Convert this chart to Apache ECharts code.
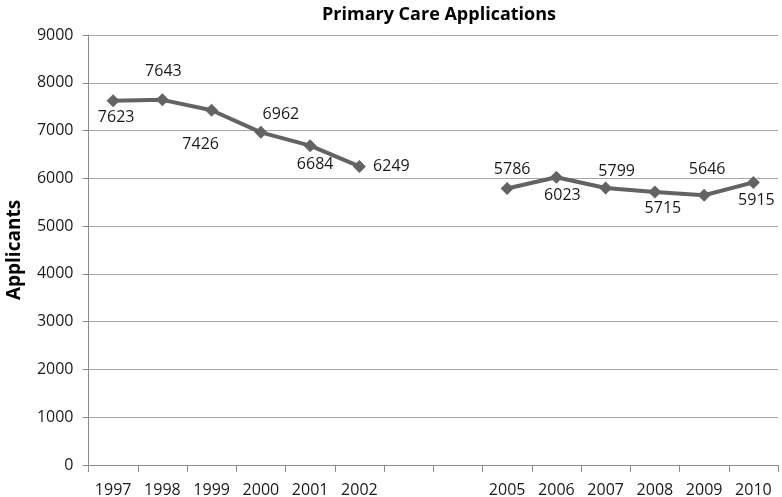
<!DOCTYPE html>
<html>
<head>
<meta charset="utf-8">
<script src="https://cdn.jsdelivr.net/npm/echarts@6/dist/echarts.min.js"></script>
<style>
html,body{margin:0;padding:0;background:#fff;}
#chart{width:782px;height:497px;}
</style>
</head>
<body>
<div id="chart"></div>
<script>
// ---- data ----
var categories = ['1997','1998','1999','2000','2001','2002','','','2005','2006','2007','2008','2009','2010'];
var applicants = [7623, 7643, 7426, 6962, 6684, 6249, null, null, 5786, 6023, 5799, 5715, 5646, 5915];
var yTicks = [0, 1000, 2000, 3000, 4000, 5000, 6000, 7000, 8000, 9000];
var chartTitle = 'Primary Care Applications';
var yAxisTitle = 'Applicants';

// ---- label placement (style, not data) ----
var labelOffsets = [[3,17],[1,-28],[-11,34],[20,-18],[5,19],[32,0],null,null,[5,-19],[6,18],[11,-16],[8,16],[3,-26],[3,18]];

var FONT = '"Open Sans", "Liberation Sans", sans-serif';
var seriesData = applicants.map(function (v, i) {
  if (v === null) return null;
  var off = labelOffsets[i] || [0, 0];
  return { value: v, label: { show: true, position: 'inside', offset: off } };
});

var chart = echarts.init(document.getElementById('chart'), null, { renderer: 'canvas' });
chart.setOption({
  animation: false,
  backgroundColor: '#ffffff',
  title: {
    text: chartTitle,
    left: 434,
    top: 1,
    textAlign: 'center',
    textStyle: { fontFamily: FONT, fontSize: 18, fontWeight: 'bold', color: '#000' }
  },
  grid: { left: 88.5, right: 4, top: 35, bottom: 32, containLabel: false, outerBoundsMode: 'none' },
  xAxis: {
    type: 'category',
    data: categories,
    boundaryGap: true,
    axisLine: { show: true, lineStyle: { color: '#8c8c8c', width: 1 } },
    axisTick: { show: true, length: 7, alignWithLabel: false, interval: 0, lineStyle: { color: '#8c8c8c' } },
    axisLabel: { interval: 0, margin: 17, fontFamily: FONT, fontSize: 16, color: '#1a1a1a' },
    splitLine: { show: false }
  },
  yAxis: {
    type: 'value',
    min: yTicks[0],
    max: yTicks[yTicks.length - 1],
    interval: yTicks[1] - yTicks[0],
    name: yAxisTitle,
    nameLocation: 'middle',
    nameRotate: 90,
    nameGap: 64,
    nameTextStyle: { fontFamily: FONT, fontSize: 19, fontWeight: 'bold', color: '#000' },
    axisLine: { show: true, lineStyle: { color: '#8c8c8c', width: 1 } },
    axisTick: { show: true, length: 6, lineStyle: { color: '#8c8c8c' } },
    axisLabel: { margin: 15, fontFamily: FONT, fontSize: 16, color: '#1a1a1a', formatter: function (v) { return String(v); } },
    splitLine: { show: true, lineStyle: { color: '#a6a6a6', width: 1 } }
  },
  series: [{
    type: 'line',
    data: seriesData,
    connectNulls: false,
    symbol: 'diamond',
    symbolSize: 13,
    showAllSymbol: true,
    lineStyle: { color: '#636363', width: 4 },
    itemStyle: { color: '#636363' },
    label: { show: true, fontFamily: FONT, fontSize: 16, color: '#1a1a1a' },
    emphasis: { disabled: true }
  }]
});
</script>
</body>
</html>
